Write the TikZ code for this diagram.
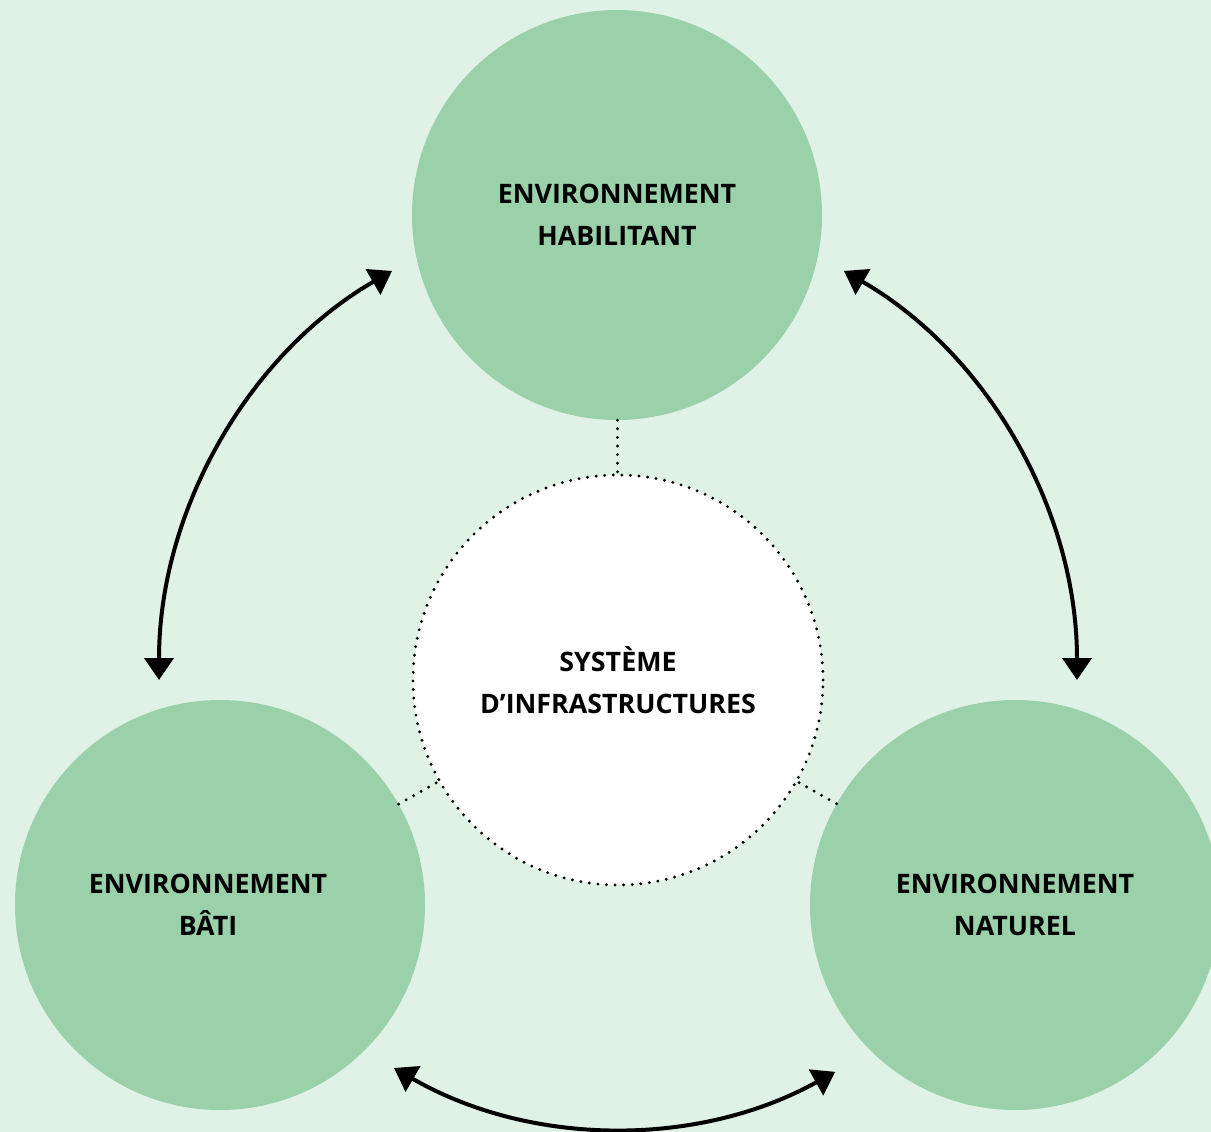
\documentclass[tikz,border=0pt]{standalone}
\usepackage{fontspec}
\newfontfamily\lblfont{Open Sans}
\usetikzlibrary{arrows.meta,calc}
\definecolor{bgc}{RGB}{224,241,229}
\definecolor{cgreen}{RGB}{154,209,171}
\begin{document}
\begin{tikzpicture}[x=1pt,y=1pt,
  lbl/.style={align=center,inner sep=0pt,font=\lblfont\bfseries\fontsize{26.8}{42}\selectfont,text=black},
  envbox/.style={circle,fill=cgreen,minimum size=410pt,inner sep=0pt,lbl},
  sysbox/.style={circle,fill=white,minimum size=410pt,inner sep=0pt,lbl,
    draw=black,line width=3.2pt,dash pattern=on 0pt off 8.6pt,line cap=round},
  dotline/.style={draw=black,line width=3.2pt,dash pattern=on 0pt off 8.6pt,line cap=round},
  arr/.style={draw=black,line width=4pt,{Triangle[width=29pt,length=22pt]}-{Triangle[width=29pt,length=22pt]}}]
\fill[bgc] (0,0) rectangle (1211,-1132);
\useasboundingbox (0,0) rectangle (1211,-1132);
\node[sysbox] (sys) at (618,-680) {SYSTÈME\\D’INFRASTRUCTURES};
\node[envbox] (hab) at (617,-215) {ENVIRONNEMENT\\HABILITANT};
\node[envbox] (bati) at (220,-905) {};
\node[lbl] (batitxt) at (208,-905) {ENVIRONNEMENT\\BÂTI};
\node[envbox] (nat) at (1015,-905) {ENVIRONNEMENT\\NATUREL};
\draw[dotline] (hab) -- (sys);
\draw[dotline] (bati) -- (sys);
\draw[dotline] (nat) -- (sys);
\coordinate (l1) at ($(sys.center)+(180:459 and 470)$);
\coordinate (r1) at ($(sys.center)+(60.5:459 and 470)$);
\coordinate (b1) at ($(sys.center)+(240:448)$);
\draw[arr] (l1) arc[start angle=180,end angle=119.5,x radius=459,y radius=470];
\draw[arr] (r1) arc[start angle=60.5,end angle=0,x radius=459,y radius=470];
\draw[arr] (b1) arc[start angle=240,end angle=299,radius=448];
\end{tikzpicture}
\end{document}
